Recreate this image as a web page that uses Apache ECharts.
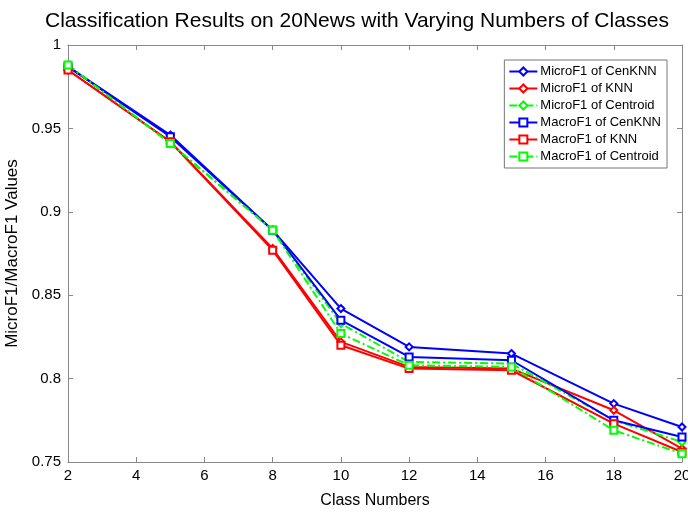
<!DOCTYPE html>
<html><head><meta charset="utf-8">
<script src="https://cdn.jsdelivr.net/npm/echarts@6/dist/echarts.min.js"></script>
<style>html,body{margin:0;padding:0;background:#fff}#c{width:688px;height:514px}</style>
</head><body><div id="c"></div>
<script>
const classNumbers = [2, 5, 8, 10, 12, 15, 18, 20];
const microCenKNN  = [0.987, 0.946, 0.889, 0.842, 0.819, 0.815, 0.785, 0.771];
const microKNN     = [0.985, 0.942, 0.878, 0.822, 0.807, 0.806, 0.781, 0.758];
const microCentroid= [0.988, 0.941, 0.889, 0.833, 0.810, 0.809, 0.775, 0.762];
const macroCenKNN  = [0.987, 0.945, 0.889, 0.835, 0.813, 0.811, 0.775, 0.765];
const macroKNN     = [0.985, 0.942, 0.877, 0.820, 0.806, 0.805, 0.773, 0.756];
const macroCentroid= [0.988, 0.941, 0.889, 0.827, 0.808, 0.807, 0.769, 0.755];
const seriesNames = ['MicroF1 of CenKNN','MicroF1 of KNN','MicroF1 of Centroid','MacroF1 of CenKNN','MacroF1 of KNN','MacroF1 of Centroid'];
const titleText = 'Classification Results on 20News with Varying Numbers of Classes';

const font = 'Liberation Sans, Arial, sans-serif';
function mk(name, vals, color, sym, dashed) {
  return {
    name, type: 'line',
    data: classNumbers.map((x, i) => [x, vals[i]]),
    symbol: sym, symbolSize: 7,
    showAllSymbol: true,
    lineStyle: { color, width: 2, type: dashed ? [8, 3, 2, 3] : 'solid' },
    itemStyle: { color, borderColor: color, borderWidth: 1.5 },
    emphasis: { disabled: true }, animation: false
  };
}
const chart = echarts.init(document.getElementById('c'));
const axisLine = { show: true, lineStyle: { color: '#888', width: 1 } };
chart.setOption({
  animation: false,
  backgroundColor: '#fff',
  title: { text: titleText, left: 40, top: 6,
    textStyle: { fontFamily: font, fontSize: 21, fontWeight: 'normal', color: '#000' } },
  grid: { left: 68, right: 6, top: 45, bottom: 52, outerBoundsMode: 'none', containLabel: false },
  legend: {
    orient: 'vertical', right: 21, top: 60,
    backgroundColor: '#fff', borderColor: '#777', borderWidth: 1,
    padding: [5, 6, 5, 4], itemGap: 4, itemWidth: 28, itemHeight: 10,
    textStyle: { fontFamily: font, fontSize: 13, color: '#000', padding: [0, 0, 0, -2] },
    data: seriesNames
  },
  xAxis: [{
    type: 'value', min: 2, max: 20, interval: 2,
    name: 'Class Numbers', nameLocation: 'middle', nameGap: 31,
    nameTextStyle: { fontFamily: font, fontSize: 16, color: '#000' },
    axisLine, axisTick: { show: true, inside: true, length: 5, lineStyle: { color: '#888' } },
    axisLabel: { fontFamily: font, fontSize: 15, color: '#000', margin: 6 },
    splitLine: { show: false }
  }, {
    type: 'value', min: 2, max: 20, interval: 2, position: 'top',
    axisLine, axisTick: { show: true, inside: true, length: 5, lineStyle: { color: '#888' } },
    axisLabel: { show: false }, splitLine: { show: false }
  }],
  yAxis: [{
    type: 'value', min: 0.75, max: 1, interval: 0.05,
    name: 'MicroF1/MacroF1 Values', nameLocation: 'middle', nameGap: 43,
    nameTextStyle: { fontFamily: font, fontSize: 17, color: '#000' },
    axisLine, axisTick: { show: true, inside: true, length: 5, lineStyle: { color: '#888' } },
    axisLabel: { fontFamily: font, fontSize: 15, color: '#000', margin: 7 },
    splitLine: { show: false }
  }, {
    type: 'value', min: 0.75, max: 1, interval: 0.05, position: 'right',
    axisLine, axisTick: { show: true, inside: true, length: 5, lineStyle: { color: '#888' } },
    axisLabel: { show: false }, splitLine: { show: false }
  }],
  series: [
    mk(seriesNames[0], microCenKNN, '#0000ff', 'emptyDiamond', false),
    mk(seriesNames[1], microKNN, '#ff0000', 'emptyDiamond', false),
    mk(seriesNames[2], microCentroid, '#00ff00', 'emptyDiamond', true),
    mk(seriesNames[3], macroCenKNN, '#0000ff', 'emptyRect', false),
    mk(seriesNames[4], macroKNN, '#ff0000', 'emptyRect', false),
    mk(seriesNames[5], macroCentroid, '#00ff00', 'emptyRect', true)
  ]
});
</script></body></html>
